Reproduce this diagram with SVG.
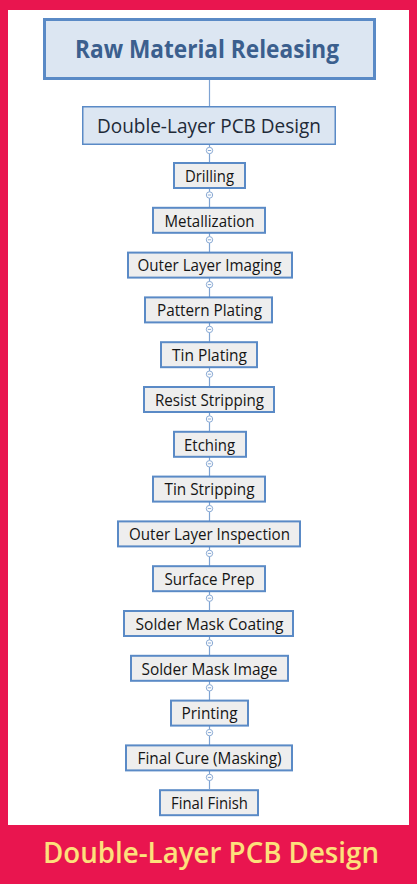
<svg xmlns="http://www.w3.org/2000/svg" width="417" height="884" viewBox="0 0 417 884">
<style>
.t{font-family:"Open Sans","Noto Sans","DejaVu Sans",sans-serif;text-anchor:middle}
.step rect{fill:#eeeeee;stroke:#5a8ac6;stroke-width:2}
.step text{font-size:16px;font-weight:500;fill:#151515}
.conn line{stroke:#7ea3d3;stroke-width:1.2}
.conn circle{fill:#ffffff;stroke:#8aaad4;stroke-width:1}
.conn path{stroke:#8aaad4;stroke-width:1;fill:none}
</style>
<rect x="0" y="0" width="417" height="884" fill="#e9154f"/>
<rect x="8" y="10" width="401" height="815" fill="#ffffff"/>
<g id="connectors" class="conn">
<line x1="209.5" y1="80" x2="209.5" y2="106"/>
<line x1="209.5" y1="145" x2="209.5" y2="789"/>
<circle cx="209.5" cy="150.5" r="3.2"/><path d="M207.8 150.5h3.4"/>
<circle cx="209.5" cy="195" r="3.2"/><path d="M207.8 195h3.4"/>
<circle cx="209.5" cy="239.8" r="3.2"/><path d="M207.8 239.8h3.4"/>
<circle cx="209.5" cy="284.6" r="3.2"/><path d="M207.8 284.6h3.4"/>
<circle cx="209.5" cy="329.4" r="3.2"/><path d="M207.8 329.4h3.4"/>
<circle cx="209.5" cy="374.2" r="3.2"/><path d="M207.8 374.2h3.4"/>
<circle cx="209.5" cy="419" r="3.2"/><path d="M207.8 419h3.4"/>
<circle cx="209.5" cy="463.8" r="3.2"/><path d="M207.8 463.8h3.4"/>
<circle cx="209.5" cy="508.6" r="3.2"/><path d="M207.8 508.6h3.4"/>
<circle cx="209.5" cy="553.4" r="3.2"/><path d="M207.8 553.4h3.4"/>
<circle cx="209.5" cy="598.2" r="3.2"/><path d="M207.8 598.2h3.4"/>
<circle cx="209.5" cy="643" r="3.2"/><path d="M207.8 643h3.4"/>
<circle cx="209.5" cy="687.8" r="3.2"/><path d="M207.8 687.8h3.4"/>
<circle cx="209.5" cy="732.6" r="3.2"/><path d="M207.8 732.6h3.4"/>
<circle cx="209.5" cy="777.4" r="3.2"/><path d="M207.8 777.4h3.4"/>
</g>
<g id="raw-material">
<rect x="44.5" y="19.5" width="330" height="59" fill="#dce6f2" stroke="#5a8ac6" stroke-width="3"/>
<text class="t" x="207" y="58" font-size="25" font-weight="bold" fill="#3b5f8e" textLength="264" lengthAdjust="spacingAndGlyphs">Raw Material Releasing</text>
</g>
<g id="design">
<rect x="82.75" y="106.75" width="252.5" height="37.5" fill="#dce6f2" stroke="#5a8ac6" stroke-width="1.5"/>
<text class="t" x="209" y="133" font-size="20" fill="#1e2a38" textLength="224" lengthAdjust="spacingAndGlyphs">Double-Layer PCB Design</text>
</g>
<g id="drilling" class="step"><rect x="174" y="163" width="71" height="25"/><text class="t" x="209.5" y="181.8" textLength="49" lengthAdjust="spacingAndGlyphs">Drilling</text></g>
<g id="metallization" class="step"><rect x="153" y="207.8" width="112" height="25"/><text class="t" x="209.5" y="226.6" textLength="90" lengthAdjust="spacingAndGlyphs">Metallization</text></g>
<g id="outer-layer-imaging" class="step"><rect x="128" y="252.6" width="164" height="25"/><text class="t" x="209.5" y="271.4" textLength="144" lengthAdjust="spacingAndGlyphs">Outer Layer Imaging</text></g>
<g id="pattern-plating" class="step"><rect x="145" y="297.4" width="127" height="25"/><text class="t" x="209.5" y="316.2" textLength="105" lengthAdjust="spacingAndGlyphs">Pattern Plating</text></g>
<g id="tin-plating" class="step"><rect x="161" y="342.2" width="96" height="25"/><text class="t" x="209.5" y="361" textLength="75" lengthAdjust="spacingAndGlyphs">Tin Plating</text></g>
<g id="resist-stripping" class="step"><rect x="144" y="387" width="130" height="25"/><text class="t" x="209.5" y="405.8" textLength="109" lengthAdjust="spacingAndGlyphs">Resist Stripping</text></g>
<g id="etching" class="step"><rect x="174" y="431.8" width="72" height="25"/><text class="t" x="209.5" y="450.6" textLength="51" lengthAdjust="spacingAndGlyphs">Etching</text></g>
<g id="tin-stripping" class="step"><rect x="153" y="476.6" width="112" height="25"/><text class="t" x="209.5" y="495.4" textLength="90" lengthAdjust="spacingAndGlyphs">Tin Stripping</text></g>
<g id="outer-layer-inspection" class="step"><rect x="118" y="521.4" width="182" height="25"/><text class="t" x="209.5" y="540.2" textLength="161" lengthAdjust="spacingAndGlyphs">Outer Layer Inspection</text></g>
<g id="surface-prep" class="step"><rect x="153" y="566.2" width="112" height="25"/><text class="t" x="209.5" y="585" textLength="90" lengthAdjust="spacingAndGlyphs">Surface Prep</text></g>
<g id="solder-mask-coating" class="step"><rect x="124" y="611" width="169" height="25"/><text class="t" x="209.5" y="629.8" textLength="148" lengthAdjust="spacingAndGlyphs">Solder Mask Coating</text></g>
<g id="solder-mask-image" class="step"><rect x="131" y="655.8" width="157" height="25"/><text class="t" x="209.5" y="674.6" textLength="136" lengthAdjust="spacingAndGlyphs">Solder Mask Image</text></g>
<g id="printing" class="step"><rect x="171" y="700.6" width="77" height="25"/><text class="t" x="209.5" y="719.4" textLength="56" lengthAdjust="spacingAndGlyphs">Printing</text></g>
<g id="final-cure" class="step"><rect x="126" y="745.4" width="166" height="25"/><text class="t" x="209.5" y="764.2" textLength="144" lengthAdjust="spacingAndGlyphs">Final Cure (Masking)</text></g>
<g id="final-finish" class="step"><rect x="160" y="790.2" width="98" height="25"/><text class="t" x="209.5" y="809" textLength="77" lengthAdjust="spacingAndGlyphs">Final Finish</text></g>
<g id="caption">
<text class="t" x="211" y="863" font-size="28" font-weight="600" fill="#fde07c" textLength="336" lengthAdjust="spacingAndGlyphs">Double-Layer PCB Design</text>
</g>
</svg>
